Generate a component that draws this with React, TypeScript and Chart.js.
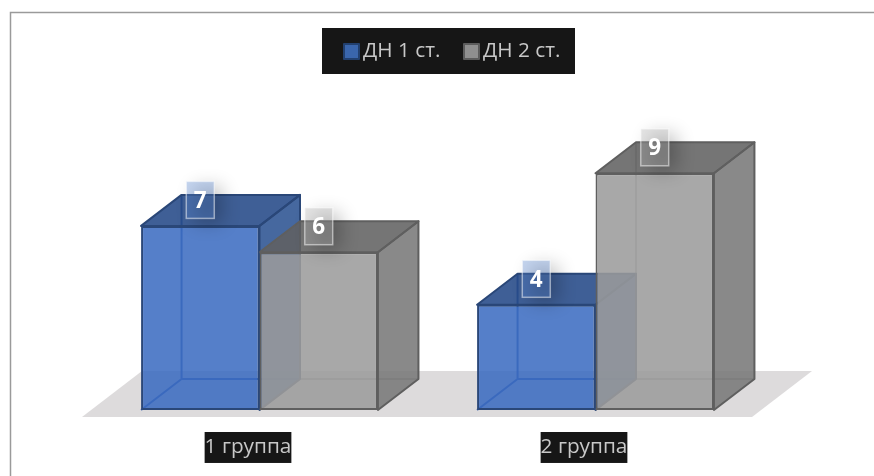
import React, { useEffect, useRef } from "react";
import { Chart, registerables } from "chart.js";

Chart.register(...registerables);

const categories = ["1 группа", "2 группа"];
const seriesNames = ["ДН 1 ст.", "ДН 2 ст."];
const series1 = [7, 4];
const series2 = [6, 9];

// Per-series face colours of the extruded columns.
const palette = [
  {
    front: "rgba(55,105,192,0.85)",
    edge: "#2a4778",
    back: "rgba(47,90,170,0.85)",
    right: "rgba(42,82,145,0.87)",
    top: "rgba(34,71,134,0.87)",
    swatch: "#3a66ad",
    swatchEdge: "#22406f",
    tag: "rgba(89,134,209,0.35)",
  },
  {
    front: "rgba(155,155,155,0.87)",
    edge: "#5f5f5f",
    back: "rgba(110,110,110,0.45)",
    right: "rgba(120,120,120,0.87)",
    top: "rgba(96,96,96,0.87)",
    swatch: "#8f8f8f",
    swatchEdge: "#5c5c5c",
    tag: "rgba(180,180,180,0.35)",
  },
];

const FONT = '"Open Sans", sans-serif';
const LABEL_SIZE = 20.8;
const DEPTH_X = 40.5;
const DEPTH_Y = 31;

function poly(ctx: CanvasRenderingContext2D, pts: number[][], fill?: string, stroke?: string, lw = 2) {
  ctx.beginPath();
  pts.forEach(([x, y], i) => (i ? ctx.lineTo(x, y) : ctx.moveTo(x, y)));
  ctx.closePath();
  if (fill) {
    ctx.fillStyle = fill;
    ctx.fill();
  }
  if (stroke) {
    ctx.strokeStyle = stroke;
    ctx.lineWidth = lw;
    ctx.lineJoin = "round";
    ctx.stroke();
  }
}

const scenePlugin = {
  id: "scene",
  // Outer frame, floor plane and legend.
  beforeDraw(chart: any) {
    const { ctx, scales } = chart;
    const base = scales.y.getPixelForValue(0);
    const left = scales.x.left;
    const right = scales.x.right;
    ctx.save();
    ctx.fillStyle = "#ffffff";
    ctx.fillRect(0, 0, chart.width, chart.height);
    ctx.strokeStyle = "#9a9a9a";
    ctx.lineWidth = 1.5;
    ctx.beginPath();
    ctx.moveTo(10.5, chart.height);
    ctx.lineTo(10.5, 12.5);
    ctx.lineTo(chart.width, 12.5);
    ctx.stroke();

    poly(ctx, [
      [left - 9.5, base + 7],
      [right - 11.5, base + 7],
      [right + 48.5, base - 39],
      [left + 50.5, base - 39],
    ], "#dddbdc");

    ctx.fillStyle = "#161616";
    ctx.fillRect(322, 28, 253, 46);
    ctx.textBaseline = "middle";
    ctx.textAlign = "left";
    ctx.font = `${LABEL_SIZE}px ${FONT}`;
    chart.data.datasets.forEach((ds: any, i: number) => {
      const x = 344 + i * 120;
      poly(ctx, [[x, 44], [x + 15, 44], [x + 15, 59], [x, 59]], palette[i].swatch, palette[i].swatchEdge, 2);
      ctx.fillStyle = "#c8c8c8";
      ctx.fillText(ds.label, x + 19, 51.5);
    });
    ctx.restore();
  },
  // Back edges and the top and side faces sit behind the front faces.
  beforeDatasetsDraw(chart: any) {
    const { ctx } = chart;
    ctx.save();
    chart.data.datasets.forEach((_: any, d: number) => {
      const c = palette[d];
      chart.getDatasetMeta(d).data.forEach((bar: any) => {
        const l = bar.x - bar.width / 2;
        const r = bar.x + bar.width / 2;
        const t = bar.y;
        const b = bar.base;
        const dx = DEPTH_X;
        const dy = DEPTH_Y;
        ctx.strokeStyle = c.back;
        ctx.lineWidth = 2;
        ctx.beginPath();
        ctx.moveTo(l + dx, t - dy);
        ctx.lineTo(l + dx, b - dy);
        ctx.lineTo(r + dx, b - dy);
        ctx.moveTo(l + dx, b - dy);
        ctx.lineTo(l, b);
        ctx.stroke();
        poly(ctx, [[r, t], [r + dx, t - dy], [r + dx, b - dy], [r, b]], c.right, c.edge, 2);
        poly(ctx, [[l, t], [l + dx, t - dy], [r + dx, t - dy], [r, t]], c.top, c.edge, 2);
      });
    });
    ctx.restore();
  },
  // Value tags float above each column's front edge.
  afterDatasetsDraw(chart: any) {
    const { ctx } = chart;
    ctx.save();
    chart.data.datasets.forEach((ds: any, d: number) => {
      chart.getDatasetMeta(d).data.forEach((bar: any, i: number) => {
        const cx = bar.x;
        const cy = bar.y - 26;
        const w = 28;
        const h = 37;
        ctx.save();
        ctx.shadowColor = "rgba(0,0,0,0.24)";
        ctx.shadowBlur = 18;
        ctx.shadowOffsetX = 2000 + 8;
        ctx.shadowOffsetY = 5;
        ctx.fillStyle = "#000";
        ctx.fillRect(cx - w / 2 - 2000, cy - h / 2, w, h);
        ctx.restore();
        ctx.fillStyle = palette[d].tag;
        ctx.fillRect(cx - w / 2, cy - h / 2, w, h);
        ctx.strokeStyle = "rgba(255,255,255,0.5)";
        ctx.lineWidth = 1.5;
        ctx.strokeRect(cx - w / 2, cy - h / 2, w, h);
        ctx.fillStyle = "#ffffff";
        ctx.font = `bold 22.5px ${FONT}`;
        ctx.textAlign = "center";
        ctx.textBaseline = "middle";
        ctx.fillText(String(ds.data[i]), cx, cy + 1.5);
      });
    });
    ctx.restore();
  },
};

export default function App() {
  const ref = useRef<HTMLCanvasElement>(null);
  useEffect(() => {
    const chart = new Chart(ref.current!, {
      type: "bar",
      data: {
        labels: categories,
        datasets: [series1, series2].map((data, i) => ({
          label: seriesNames[i],
          data,
          backgroundColor: palette[i].front,
          borderColor: palette[i].edge,
          borderWidth: 2,
          borderSkipped: false,
          categoryPercentage: 0.705,
          barPercentage: 1,
        })),
      },
      options: {
        responsive: false,
        animation: false,
        layout: { padding: { left: 91.5, right: 110.5, top: 147, bottom: 0 } },
        plugins: { legend: { display: false }, tooltip: { enabled: false } },
        scales: {
          x: {
            grid: { display: false },
            border: { display: false },
            afterFit: (s: any) => {
              s.height = 66;
            },
            ticks: {
              color: "#c8c8c8",
              font: { family: FONT, size: LABEL_SIZE },
              padding: 17,
              labelOffset: -11.5,
              maxRotation: 0,
              showLabelBackdrop: true,
              backdropColor: "#161616",
              backdropPadding: { x: 0, y: 3 },
            },
          },
          y: { display: false, min: 0, max: 10 },
        },
      },
      plugins: [scenePlugin],
    } as any);
    return () => chart.destroy();
  }, []);
  return (
    <div style={{ position: "fixed", left: 0, top: 0, width: 874, height: 476 }}>
      <canvas ref={ref} width={874} height={476} style={{ display: "block" }} />
    </div>
  );
}
